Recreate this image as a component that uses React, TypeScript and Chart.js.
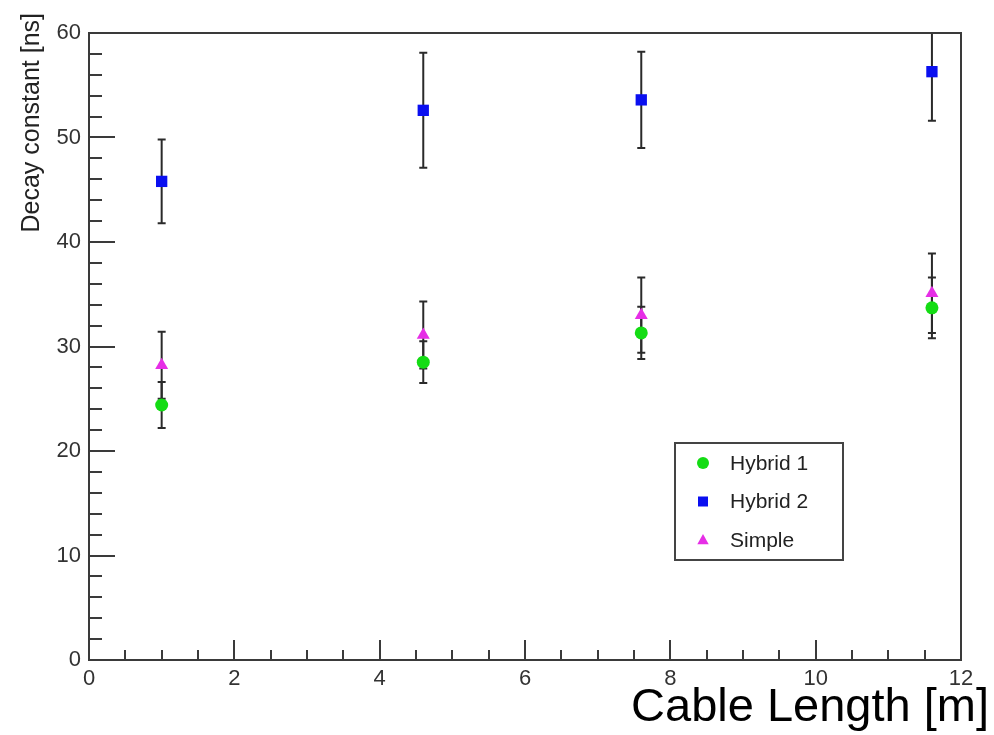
import React, { useEffect, useRef } from 'react';
import { Chart, registerables } from 'chart.js';

Chart.register(...registerables);

const cableLength = [1, 4.6, 7.6, 11.6];
const hybrid1 = [24.4, 28.5, 31.3, 33.7];
const hybrid1Err = [2.2, 2.0, 2.5, 2.9];
const hybrid2 = [45.8, 52.6, 53.6, 56.3];
const hybrid2Err = [4.0, 5.5, 4.6, 4.7];
const simple = [28.2, 31.1, 33.0, 35.1];
const simpleErr = [3.2, 3.2, 3.6, 3.8];

const seriesLabels = ['Hybrid 1', 'Hybrid 2', 'Simple'];
const xTitle = 'Cable Length [m]';
const yTitle = 'Decay constant [ns]';

const FONT = '"Liberation Sans", Arial, Helvetica, sans-serif';
const AXIS_COLOR = '#3a3a3a';

function markerPath(ctx: CanvasRenderingContext2D, style: string, x: number, y: number, r: number) {
  ctx.beginPath();
  if (style === 'circle') {
    ctx.arc(x, y, r, 0, Math.PI * 2);
  } else if (style === 'rect') {
    ctx.rect(x - r, y - r, 2 * r, 2 * r);
  } else {
    ctx.moveTo(x, y - r);
    ctx.lineTo(x + r * 0.95, y + r * 0.7);
    ctx.lineTo(x - r * 0.95, y + r * 0.7);
    ctx.closePath();
  }
}

const errorBarPlugin = {
  id: 'errorBars',
  beforeDatasetsDraw(chart: any) {
    const ctx = chart.ctx as CanvasRenderingContext2D;
    const xs = chart.scales.x;
    const ys = chart.scales.y;
    const area = chart.chartArea;
    ctx.save();
    ctx.beginPath();
    ctx.rect(area.left, area.top, area.right - area.left, area.bottom - area.top);
    ctx.clip();
    ctx.strokeStyle = '#2a2a2a';
    ctx.lineWidth = 2;
    chart.data.datasets.forEach((ds: any) => {
      ds.data.forEach((p: any, i: number) => {
        const e = ds.errors[i];
        const px = xs.getPixelForValue(p.x);
        const top = ys.getPixelForValue(p.y + e);
        const bot = ys.getPixelForValue(p.y - e);
        ctx.beginPath();
        ctx.moveTo(px, top);
        ctx.lineTo(px, bot);
        ctx.moveTo(px - 4, top);
        ctx.lineTo(px + 4, top);
        ctx.moveTo(px - 4, bot);
        ctx.lineTo(px + 4, bot);
        ctx.stroke();
      });
    });
    ctx.restore();
  },
};

const framePlugin = {
  id: 'rootFrame',
  afterDraw(chart: any) {
    const ctx = chart.ctx as CanvasRenderingContext2D;
    const xs = chart.scales.x;
    const ys = chart.scales.y;
    const a = chart.chartArea;
    ctx.save();
    ctx.strokeStyle = AXIS_COLOR;
    ctx.lineWidth = 2;
    ctx.strokeRect(a.left, a.top, a.right - a.left, a.bottom - a.top);
    // y ticks (inward)
    ctx.beginPath();
    for (let v = ys.min; v <= ys.max + 1e-9; v += 2) {
      const py = Math.round(ys.getPixelForValue(v));
      const len = Math.abs(v % 10) < 1e-6 ? 26 : 13;
      ctx.moveTo(a.left, py);
      ctx.lineTo(a.left + len, py);
    }
    // x ticks (inward)
    for (let v = xs.min; v <= xs.max + 1e-9; v += 0.5) {
      const px = Math.round(xs.getPixelForValue(v));
      const len = Math.abs(v % 2) < 1e-6 ? 20 : 10;
      ctx.moveTo(px, a.bottom);
      ctx.lineTo(px, a.bottom - len);
    }
    ctx.stroke();

    // axis titles
    ctx.fillStyle = '#222';
    ctx.font = `25px ${FONT}`;
    ctx.save();
    ctx.translate(39, 13);
    ctx.rotate(-Math.PI / 2);
    ctx.textAlign = 'right';
    ctx.textBaseline = 'alphabetic';
    ctx.fillText(yTitle, 0, 0);
    ctx.restore();

    ctx.fillStyle = '#000';
    ctx.font = `47px ${FONT}`;
    ctx.textAlign = 'right';
    ctx.textBaseline = 'alphabetic';
    ctx.fillText(xTitle, 989, 721);

    // legend
    const lx = 675, ly = 443, lw = 168, lh = 117;
    ctx.fillStyle = '#fff';
    ctx.fillRect(lx, ly, lw, lh);
    ctx.strokeStyle = '#444';
    ctx.lineWidth = 2;
    ctx.strokeRect(lx, ly, lw, lh);
    ctx.font = `21px ${FONT}`;
    ctx.textAlign = 'left';
    ctx.textBaseline = 'middle';
    chart.data.datasets.forEach((ds: any, i: number) => {
      const cy = ly + 20 + i * 38.5;
      ctx.fillStyle = ds.backgroundColor;
      const r = ds.pointStyle === 'rect' ? 5 : ds.pointStyle === 'circle' ? 6 : 6;
      markerPath(ctx, ds.pointStyle, lx + 28, cy, r);
      ctx.fill();
      ctx.fillStyle = '#222';
      ctx.fillText(ds.label, lx + 55, cy + 1);
    });
    ctx.restore();
  },
};

export default function App() {
  const ref = useRef<HTMLCanvasElement | null>(null);
  useEffect(() => {
    if (!ref.current) return;
    const mk = (ys: number[]) => cableLength.map((x, i) => ({ x, y: ys[i] }));
    const chart = new Chart(ref.current, {
      type: 'scatter',
      data: {
        datasets: [
          {
            label: seriesLabels[0],
            data: mk(hybrid1),
            errors: hybrid1Err,
            pointStyle: 'circle',
            pointRadius: 6.5,
            backgroundColor: '#14dc14',
            borderColor: '#14dc14',
            borderWidth: 0,
          } as any,
          {
            label: seriesLabels[1],
            data: mk(hybrid2),
            errors: hybrid2Err,
            pointStyle: 'rect',
            pointRadius: 8,
            backgroundColor: '#0a0ff0',
            borderColor: '#0a0ff0',
            borderWidth: 0,
          } as any,
          {
            label: seriesLabels[2],
            data: mk(simple),
            errors: simpleErr,
            pointStyle: 'triangle',
            pointRadius: 7.5,
            backgroundColor: '#e62ee6',
            borderColor: '#e62ee6',
            borderWidth: 0,
          } as any,
        ],
      },
      options: {
        animation: false,
        responsive: false,
        maintainAspectRatio: false,
        layout: { padding: { top: 33, right: 33, left: 0, bottom: 0 } },
        plugins: {
          legend: { display: false },
          tooltip: { enabled: false },
        },
        scales: {
          x: {
            type: 'linear',
            min: 0,
            max: 12,
            grid: { display: false, drawTicks: false },
            border: { display: false },
            ticks: {
              stepSize: 2,
              padding: 6,
              color: '#333',
              font: { family: FONT, size: 22 },
              maxRotation: 0,
            },
            afterFit: (s: any) => {
              s.height = 75;
            },
          },
          y: {
            type: 'linear',
            min: 0,
            max: 60,
            grid: { display: false, drawTicks: false },
            border: { display: false },
            ticks: {
              stepSize: 10,
              padding: 8,
              color: '#333',
              font: { family: FONT, size: 22 },
            },
            afterFit: (s: any) => {
              s.width = 89;
            },
          },
        },
      },
      plugins: [errorBarPlugin, framePlugin],
    });
    return () => chart.destroy();
  }, []);
  return (
    <div style={{ position: 'fixed', left: 0, top: 0, width: 994, height: 735, background: '#fff' }}>
      <canvas ref={ref} width={994} height={735} style={{ width: 994, height: 735 }} />
    </div>
  );
}
